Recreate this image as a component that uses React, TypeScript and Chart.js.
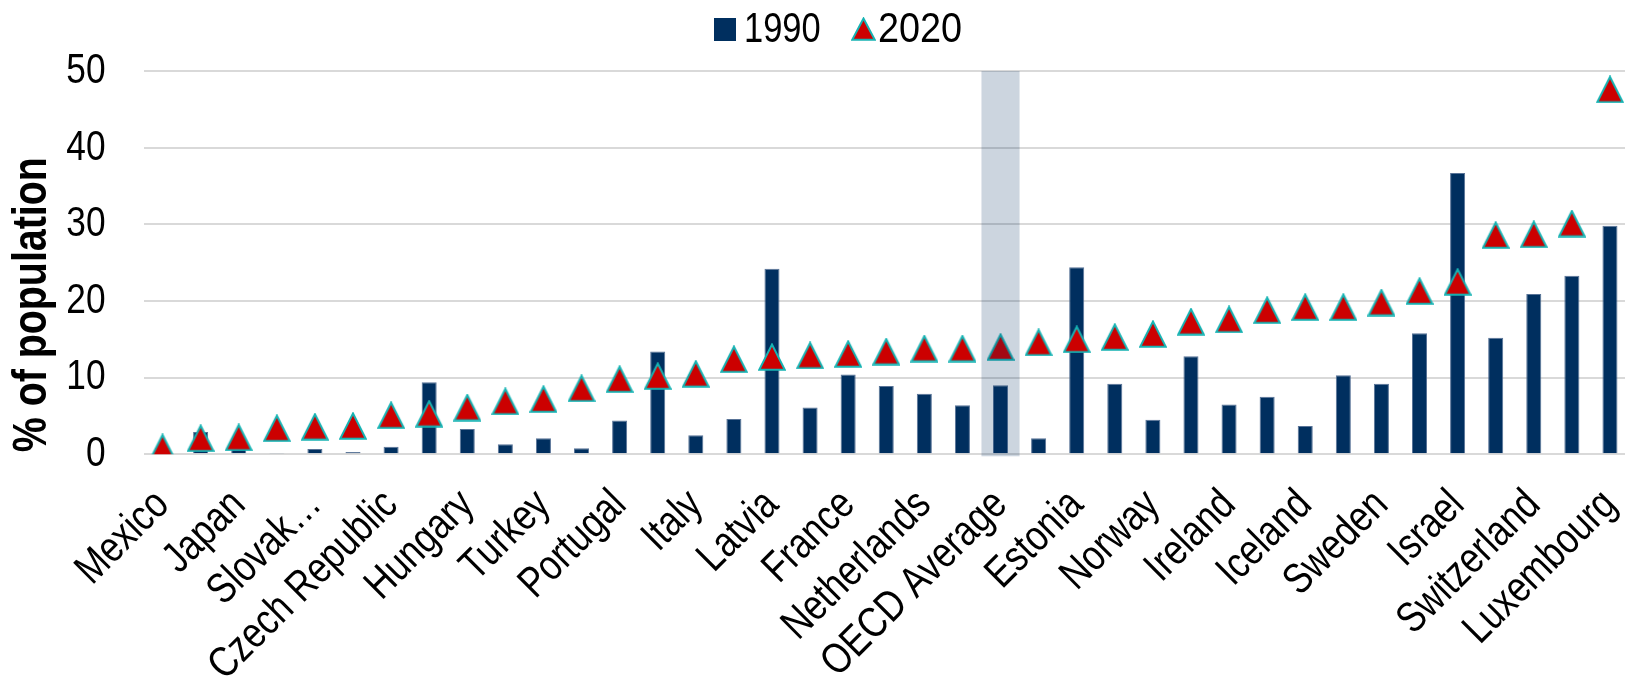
import React, { useEffect, useRef } from 'react';
import { Chart, registerables } from 'chart.js';

Chart.register(...registerables);

// Foreign-born population, % of total population, sorted by the 2020 share
const countries = [
  'Mexico', 'Poland', 'Japan', 'Korea', 'Slovak Republic', 'Colombia', 'Czech Republic',
  'Lithuania', 'Hungary', 'Finland', 'Turkey', 'Chile', 'Portugal', 'Costa Rica', 'Italy',
  'Denmark', 'Latvia', 'Greece', 'France', 'Slovenia', 'Netherlands', 'United Kingdom',
  'OECD Average', 'Spain', 'Estonia', 'United States', 'Norway', 'Belgium', 'Ireland',
  'Germany', 'Iceland', 'Austria', 'Sweden', 'Canada', 'Israel', 'New Zealand',
  'Switzerland', 'Australia', 'Luxembourg',
];

// Axis text shown under the categories (every other category is labelled)
const tickLabels = [
  'Mexico', '', 'Japan', '', 'Slovak…', '', 'Czech Republic',
  '', 'Hungary', '', 'Turkey', '', 'Portugal', '', 'Italy',
  '', 'Latvia', '', 'France', '', 'Netherlands', '',
  'OECD Average', '', 'Estonia', '', 'Norway', '', 'Ireland',
  '', 'Iceland', '', 'Sweden', '', 'Israel', '',
  'Switzerland', '', 'Luxembourg',
];

const share1990 = [
  0.8, 2.9, 0.9, 0.1, 0.7, 0.3, 1.0,
  9.4, 3.3, 1.3, 2.1, 0.8, 4.4, 13.4, 2.5,
  4.6, 24.2, 6.1, 10.4, 8.9, 7.9, 6.4,
  9.0, 2.1, 24.4, 9.2, 4.5, 12.8, 6.5,
  7.5, 3.7, 10.3, 9.2, 15.8, 36.7, 15.2,
  20.9, 23.3, 29.8,
];

const share2020 = [
  0.9, 2.1, 2.2, 3.4, 3.6, 3.7, 5.1,
  5.3, 6.1, 6.9, 7.2, 8.6, 9.8, 10.2, 10.5,
  12.4, 12.7, 12.9, 13.1, 13.4, 13.8, 13.8,
  14.0, 14.6, 15.0, 15.3, 15.7, 17.3, 17.6,
  18.8, 19.2, 19.2, 19.8, 21.3, 22.5, 28.6,
  28.7, 30.1, 47.6,
];

const seriesNames = ['1990', '2020'];
const yMin = 0;
const yMax = 50;
const yStep = 10;
const yTitle = '% of population';
const highlightCategory = 'OECD Average';

const NAVY = '#002F5F';
const RED = '#CC0000';
const TEAL = '#17B3B3';
const GRID = '#D9D9D9';
const FONT = "'Liberation Sans', Arial, sans-serif";
// horizontal squeeze that gives the condensed (Arial Narrow-like) lettering
const NARROW = 0.82;

function makeTriangle(w: number, h: number): HTMLCanvasElement {
  const c = document.createElement('canvas');
  c.width = w;
  c.height = h;
  const ctx = c.getContext('2d')!;
  ctx.beginPath();
  ctx.moveTo(w / 2, 1.5);
  ctx.lineTo(w - 1.2, h - 1.2);
  ctx.lineTo(1.2, h - 1.2);
  ctx.closePath();
  ctx.fillStyle = RED;
  ctx.fill();
  ctx.lineWidth = 2;
  ctx.strokeStyle = TEAL;
  ctx.lineJoin = 'miter';
  ctx.stroke();
  return c;
}

function drawNarrow(
  ctx: CanvasRenderingContext2D,
  text: string,
  x: number,
  y: number,
  rot: number,
  squeeze: number = NARROW,
) {
  ctx.save();
  ctx.translate(x, y);
  if (rot) ctx.rotate(rot);
  ctx.scale(squeeze, 1);
  ctx.fillText(text, 0, 0);
  ctx.restore();
}

export default function App() {
  const canvasRef = useRef<HTMLCanvasElement | null>(null);

  useEffect(() => {
    const canvas = canvasRef.current;
    if (!canvas) return;

    const markerTri = makeTriangle(28, 28);
    const legendTri = makeTriangle(25, 24);

    // Translucent column over the highlighted category
    const highlightPlugin = {
      id: 'highlightColumn',
      afterDatasetsDraw(chart: any) {
        const idx = (chart.data.labels as string[]).indexOf(highlightCategory);
        if (idx < 0) return;
        const xs = chart.scales.x;
        const ys = chart.scales.y;
        const cw = xs.width / chart.data.labels.length;
        const cx = xs.getPixelForValue(idx);
        const top = ys.getPixelForValue(yMax);
        const bottom = ys.getPixelForValue(yMin) + 2;
        const ctx = chart.ctx;
        ctx.save();
        ctx.fillStyle = 'rgba(0, 47, 95, 0.2)';
        ctx.fillRect(cx - cw / 2, top, cw, bottom - top);
        ctx.restore();
      },
    };

    // Condensed axis text, axis title and the legend row
    const textPlugin = {
      id: 'condensedText',
      afterDraw(chart: any) {
        const ctx: CanvasRenderingContext2D = chart.ctx;
        const xs = chart.scales.x;
        const ys = chart.scales.y;
        const area = chart.chartArea;
        const ds = chart.data.datasets;
        ctx.save();
        ctx.fillStyle = '#000';

        // y tick labels
        ctx.font = `43px ${FONT}`;
        ctx.textAlign = 'right';
        ctx.textBaseline = 'middle';
        ys.ticks.forEach((t: any) => {
          drawNarrow(ctx, String(t.value), area.left - 38, ys.getPixelForValue(t.value), 0);
        });

        // x tick labels, rotated 45 degrees
        ctx.font = `43px ${FONT}`;
        tickLabels.forEach((lab, i) => {
          if (!lab) return;
          drawNarrow(ctx, lab, xs.getPixelForValue(i), area.bottom + 44, -Math.PI / 4);
        });

        // y axis title
        ctx.font = `bold 48px ${FONT}`;
        ctx.textAlign = 'left';
        drawNarrow(ctx, yTitle, 33, area.bottom - 2, -Math.PI / 2);

        // legend
        ctx.font = `42px ${FONT}`;
        ctx.fillStyle = ds[0].backgroundColor;
        ctx.fillRect(714, 18, 22, 23);
        ctx.fillStyle = '#000';
        drawNarrow(ctx, ds[0].label, 744, 30, 0);
        ctx.drawImage(legendTri, 851, 17);
        drawNarrow(ctx, ds[1].label, 878, 30, 0, 0.9);
        ctx.restore();
      },
    };

    const chart = new Chart(canvas, {
      type: 'bar',
      data: {
        labels: countries,
        datasets: [
          {
            type: 'bar',
            label: seriesNames[0],
            data: share1990,
            backgroundColor: NAVY,
            borderColor: 'rgba(70, 100, 140, 0.9)',
            borderWidth: 1,
            barPercentage: 0.395,
            categoryPercentage: 1,
            order: 2,
          },
          {
            type: 'line',
            label: seriesNames[1],
            data: share2020,
            showLine: false,
            pointStyle: markerTri as any,
            pointRadius: 14,
            pointHoverRadius: 14,
            backgroundColor: RED,
            borderColor: TEAL,
            order: 1,
          },
        ],
      },
      options: {
        responsive: false,
        animation: false,
        devicePixelRatio: 1,
        layout: { padding: { top: 71, left: 0, right: 0, bottom: 0 }, autoPadding: false },
        plugins: {
          legend: { display: false },
          tooltip: { enabled: false },
        },
        scales: {
          x: {
            grid: { display: false },
            border: { display: false },
            ticks: { display: false, autoSkip: false },
            afterFit: (s: any) => {
              s.height = 676 - 454.3;
              s.paddingLeft = 0;
              s.paddingRight = 0;
            },
          },
          y: {
            min: yMin,
            max: yMax,
            grid: { color: GRID, lineWidth: 2, drawTicks: false },
            border: { display: false },
            ticks: { display: false, stepSize: yStep },
            afterFit: (s: any) => {
              s.width = 143.5;
              s.paddingTop = 0;
              s.paddingBottom = 0;
            },
          },
        },
      },
      plugins: [highlightPlugin, textPlugin],
    } as any);

    return () => chart.destroy();
  }, []);

  return (
    <div
      style={{
        position: 'fixed',
        left: 0,
        top: 0,
        width: '100vw',
        height: '100vh',
        overflow: 'hidden',
        background: '#fff',
      }}
    >
      <canvas ref={canvasRef} width={1629} height={676} style={{ display: 'block', width: 1629, height: 676 }} />
    </div>
  );
}
